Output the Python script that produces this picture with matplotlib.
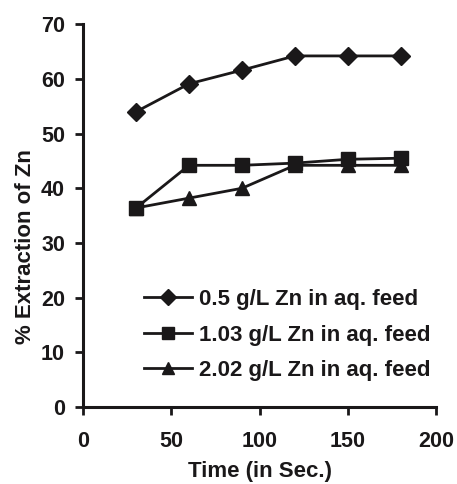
# Zn extraction vs contact time, three aqueous feed concentrations

import matplotlib
matplotlib.use("Agg")
import matplotlib.pyplot as plt

plt.rcParams["font.family"] = ["Liberation Sans", "DejaVu Sans"]
plt.rcParams["font.weight"] = "bold"

time_s = [30, 60, 90, 120, 150, 180]
ext_05 = [54.0, 59.1, 61.6, 64.2, 64.2, 64.2]
ext_103 = [36.4, 44.2, 44.2, 44.6, 45.3, 45.5]
ext_202 = [36.4, 38.2, 40.0, 44.2, 44.2, 44.2]

labels = ["0.5 g/L Zn in aq. feed", "1.03 g/L Zn in aq. feed", "2.02 g/L Zn in aq. feed"]
x_ticks = [0, 50, 100, 150, 200]
y_ticks = [0, 10, 20, 30, 40, 50, 60, 70]


def main():
    fig = plt.figure(figsize=(4.57, 4.84), dpi=100)
    ax = fig.add_axes([0.182, 0.159, 0.772, 0.791])

    c = "#1a1819"
    ax.plot(time_s, ext_05, color=c, lw=2, marker="D", ms=9.5, label=labels[0])
    ax.plot(time_s, ext_103, color=c, lw=2, marker="s", ms=10.5, label=labels[1])
    ax.plot(time_s, ext_202, color=c, lw=2, marker="^", ms=10, label=labels[2])

    ax.set_xlim(0, 200)
    ax.set_ylim(0, 70)
    ax.set_xticks(x_ticks)
    ax.set_yticks(y_ticks)

    for s in ["top", "right"]:
        ax.spines[s].set_visible(False)
    for s in ["left", "bottom"]:
        ax.spines[s].set_linewidth(2.2)
        ax.spines[s].set_color(c)
    ax.tick_params(direction="out", length=6, width=2, colors=c, labelsize=15.5)
    ax.tick_params(axis="x", pad=11)
    ax.tick_params(axis="y", pad=7)

    ax.set_xlabel("Time (in Sec.)", fontsize=16, fontweight="bold", color=c)
    ax.set_ylabel("% Extraction of Zn", fontsize=16, fontweight="bold", color=c)
    ax.xaxis.set_label_coords(0.5, -0.142)
    ax.yaxis.set_label_coords(-0.133, 0.418)

    leg = ax.legend(loc="center left", bbox_to_anchor=(0.146, 0.188), frameon=False,
                    fontsize=16, handlelength=2.2, handletextpad=0.3,
                    labelspacing=0.66, borderaxespad=0, markerscale=0.85)
    for t in leg.get_texts():
        t.set_color(c)

    fig.savefig("out.png", dpi=100)
    plt.close(fig)


if __name__ == "__main__":
    main()
